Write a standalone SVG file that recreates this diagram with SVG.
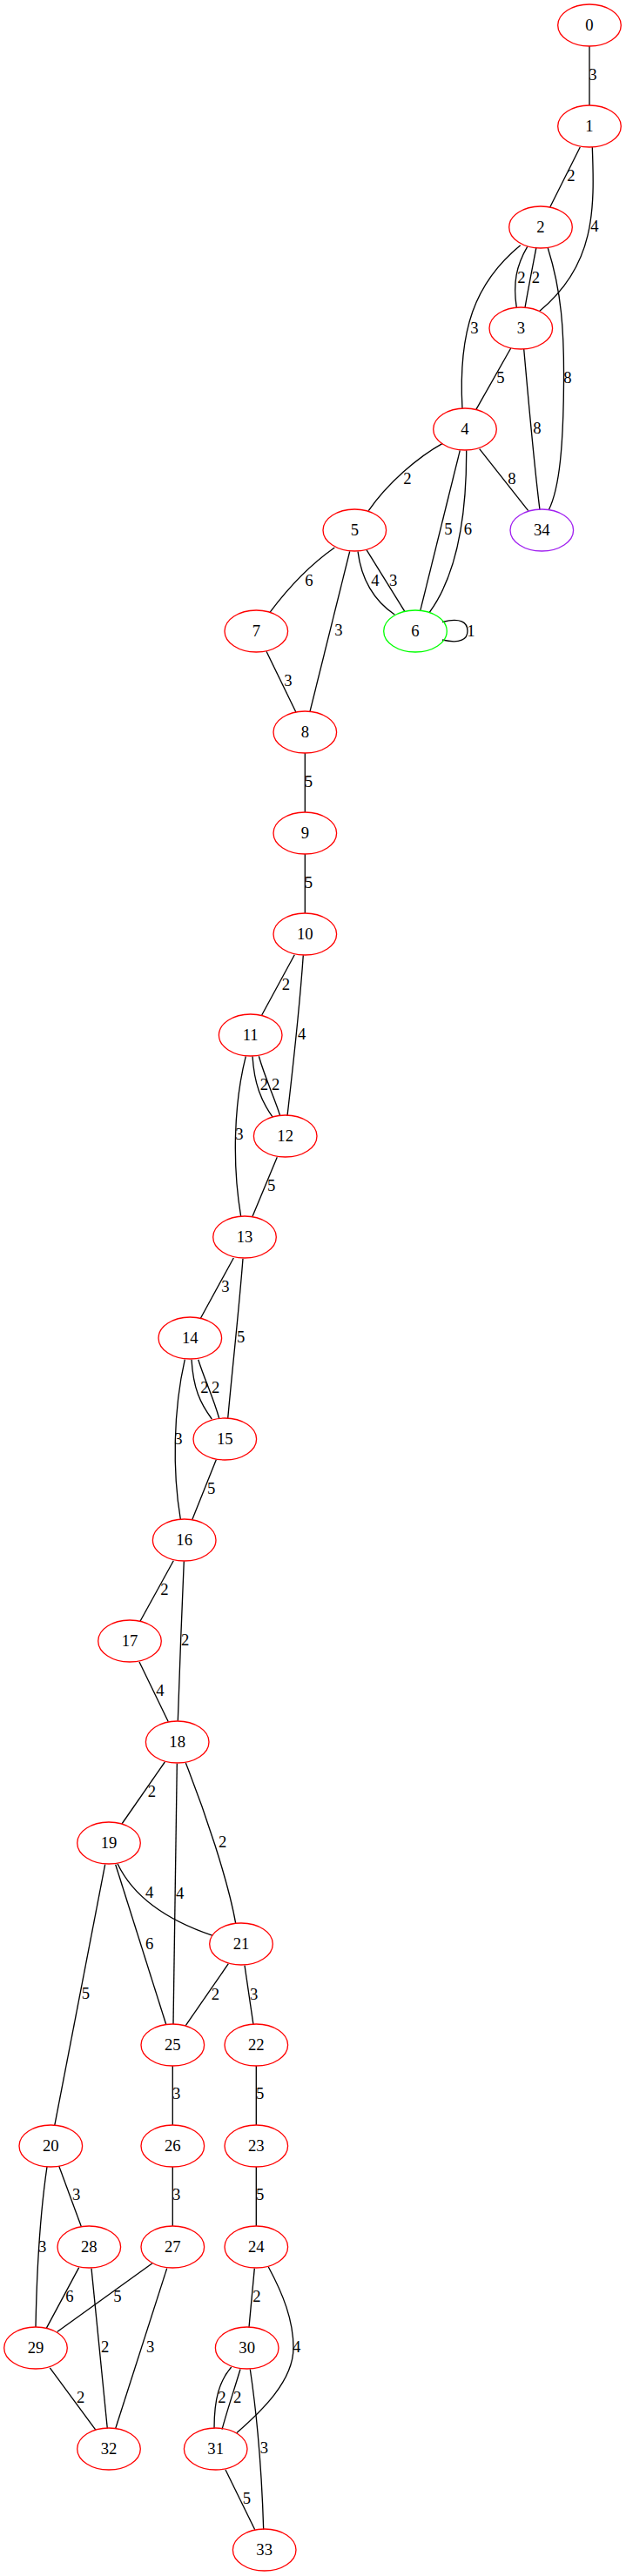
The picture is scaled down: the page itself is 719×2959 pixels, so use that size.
<svg xmlns="http://www.w3.org/2000/svg" width="719" height="2959" viewBox="0 0 719 2959">
<style>
.n ellipse{fill:none;stroke:#ff0000;stroke-width:1.33}
text{font-family:"Liberation Serif","Times New Roman",serif;font-size:18.67px;fill:#000;text-anchor:middle}
.e path{fill:none;stroke:#000;stroke-width:1.33}
</style>
<rect width="719" height="2959" fill="#fff"/>
<g id="edges" class="e">
<path d="M677,53 L677,121"/><text x="681" y="92">3</text>
<path d="M666.3,169 L631.7,238"/><text x="656" y="208">2</text>
<path d="M680.3,169 C683,240 684,305 619.3,357.7"/><text x="683" y="266">4</text>
<path d="M605.7,283.3 C593,305 589,325 593.3,353.3"/><text x="599" y="325">2</text>
<path d="M616,284 C611,310 607,330 603,353.3"/><text x="615.3" y="325">2</text>
<path d="M597.7,281.7 C545,325 526,380 531,469.3"/><text x="545" y="383">3</text>
<path d="M629.3,285 C645,335 648,380 647.5,440 C647,510 643,560 630.3,585.7"/><text x="652" y="440">8</text>
<path d="M586.7,400 L546.7,470.7"/><text x="575" y="440">5</text>
<path d="M601.7,401 C607,460 613,530 620,585.7"/><text x="617" y="498">8</text>
<path d="M508.3,509.3 C480,525 445,555 423.3,586.7"/><text x="468" y="556">2</text>
<path d="M528.3,517.3 L482.7,701.7"/><text x="515" y="614">5</text>
<path d="M535.7,517.3 C536,590 525,660 493.3,703.3"/><text x="537.3" y="614">6</text>
<path d="M550.7,515.7 L606.7,586.7"/><text x="588" y="556">8</text>
<path d="M384.3,629 C360,646 335,670 310,703.3"/><text x="355" y="673">6</text>
<path d="M401.7,633.3 L356,817.3"/><text x="389" y="730">3</text>
<path d="M411,633.3 C415,665 430,690 453.3,706"/><text x="431" y="673">4</text>
<path d="M421,631.7 L465,702.7"/><text x="451.7" y="673">3</text>
<path d="M508,714.5 C529,709 537,715 537,724.7 C537,734 529,740 508,735"/><text x="541" y="731">1</text>
<path d="M306,748.3 L340,818.3"/><text x="331" y="788">3</text>
<path d="M350.3,865 L350.3,933"/><text x="354.3" y="904">5</text>
<path d="M350.3,981 L350.3,1049"/><text x="354.3" y="1020">5</text>
<path d="M338.3,1096.7 L300.7,1166"/><text x="328.3" y="1137">2</text>
<path d="M348.3,1097.3 C344,1160 336,1230 330,1281.7"/><text x="346.7" y="1194">4</text>
<path d="M290,1213.3 C292,1245 300,1265 313.3,1283.3"/><text x="303.3" y="1252">2</text>
<path d="M297.3,1213.3 C305,1240 315,1260 321.7,1281.7"/><text x="316.7" y="1252">2</text>
<path d="M282.3,1213.3 C268,1270 267,1340 276.7,1397.3"/><text x="275" y="1309">3</text>
<path d="M318.3,1329.3 L290,1397.3"/><text x="311.7" y="1368">5</text>
<path d="M268.3,1445 L230,1515"/><text x="259" y="1484">3</text>
<path d="M279,1445.7 C274,1510 267,1570 261.7,1629.3"/><text x="276.7" y="1542">5</text>
<path d="M220,1561.7 C222,1595 230,1612 243.3,1630"/><text x="235" y="1600">2</text>
<path d="M227.7,1561.7 C235,1585 245,1605 251.7,1629.3"/><text x="247.7" y="1600">2</text>
<path d="M212.3,1561.7 C199,1620 198,1690 207.3,1745"/><text x="205" y="1659">3</text>
<path d="M248.3,1676.7 L220.7,1745.7"/><text x="242.7" y="1716">5</text>
<path d="M199.3,1792.7 L161,1862.3"/><text x="189" y="1832">2</text>
<path d="M211.3,1793.3 C209,1850 206,1920 204.3,1976.7"/><text x="212.7" y="1890">2</text>
<path d="M160,1909 L193.3,1977.7"/><text x="184" y="1948">4</text>
<path d="M189.3,2024 L140,2095"/><text x="174.3" y="2064">2</text>
<path d="M203.3,2025.7 C202,2125 200,2225 199,2325.3"/><text x="206.7" y="2181">4</text>
<path d="M213.3,2025 C235,2080 262,2160 270.7,2209.3"/><text x="255.7" y="2122">2</text>
<path d="M135,2140.7 C148,2168 175,2200 244.3,2223.3"/><text x="171.7" y="2180">4</text>
<path d="M132.7,2141.7 L190.7,2325.3"/><text x="171.7" y="2239">6</text>
<path d="M120.7,2141.7 L62.7,2441.7"/><text x="98.3" y="2296">5</text>
<path d="M262.3,2255.7 L213.3,2326.7"/><text x="247.3" y="2297">2</text>
<path d="M281,2257.7 L291,2325.7"/><text x="291.7" y="2297">3</text>
<path d="M198.3,2373 L198.3,2441"/><text x="202.7" y="2411">3</text>
<path d="M294.3,2373 L294.3,2441"/><text x="298.7" y="2411">5</text>
<path d="M198.3,2489 L198.3,2557"/><text x="202.7" y="2527">3</text>
<path d="M294.3,2489 L294.3,2557"/><text x="298.7" y="2527">5</text>
<path d="M67.7,2488 L93.3,2557.5"/><text x="87.7" y="2527">3</text>
<path d="M54,2488.8 C45,2550 42,2620 41,2673"/><text x="48.7" y="2587">3</text>
<path d="M90.7,2604.6 L53.3,2674.4"/><text x="80" y="2644">6</text>
<path d="M175,2599.8 L65.7,2678.5"/><text x="135" y="2644">5</text>
<path d="M105,2605.6 L123.3,2789.5"/><text x="120.7" y="2702">2</text>
<path d="M191.7,2605.6 L132.7,2789.5"/><text x="172.7" y="2702">3</text>
<path d="M57.3,2719.8 L110,2791.3"/><text x="92.7" y="2760">2</text>
<path d="M292.3,2605.6 L286,2673.3"/><text x="295" y="2644">2</text>
<path d="M308.3,2604 C325,2635 337,2665 337,2697 C337,2735 300,2770 271.7,2794.7"/><text x="340.7" y="2702">4</text>
<path d="M265.7,2719 C252,2735 246,2755 246,2789.5"/><text x="255" y="2760">2</text>
<path d="M276,2721.5 C269,2745 262,2765 255,2790.6"/><text x="272.7" y="2760">2</text>
<path d="M287.3,2721.5 C296,2780 301,2850 302.7,2905.7"/><text x="303.3" y="2818">3</text>
<path d="M259,2837 L292.7,2905.7"/><text x="283.3" y="2876">5</text>
</g>
<g id="node0" class="n"><ellipse cx="677" cy="29" rx="36.3" ry="24"/><text x="677" y="35">0</text></g>
<g id="node1" class="n"><ellipse cx="677" cy="145" rx="36.3" ry="24"/><text x="677" y="151">1</text></g>
<g id="node2" class="n"><ellipse cx="621" cy="261" rx="36.3" ry="24"/><text x="621" y="267">2</text></g>
<g id="node3" class="n"><ellipse cx="598.3" cy="377" rx="36.3" ry="24"/><text x="598.3" y="383">3</text></g>
<g id="node4" class="n"><ellipse cx="534" cy="493" rx="36.3" ry="24"/><text x="534" y="499">4</text></g>
<g id="node5" class="n"><ellipse cx="407.3" cy="609" rx="36.3" ry="24"/><text x="407.3" y="615">5</text></g>
<g id="node34" class="n"><ellipse cx="622.3" cy="609" rx="36.3" ry="24" style="stroke:#a020f0"/><text x="622.3" y="615">34</text></g>
<g id="node7" class="n"><ellipse cx="294.3" cy="725" rx="36.3" ry="24"/><text x="294.3" y="731">7</text></g>
<g id="node6" class="n"><ellipse cx="477" cy="725" rx="36.3" ry="24" style="stroke:#00ff00"/><text x="477" y="731">6</text></g>
<g id="node8" class="n"><ellipse cx="350.3" cy="841" rx="36.3" ry="24"/><text x="350.3" y="847">8</text></g>
<g id="node9" class="n"><ellipse cx="350.3" cy="957" rx="36.3" ry="24"/><text x="350.3" y="963">9</text></g>
<g id="node10" class="n"><ellipse cx="350.3" cy="1073" rx="36.3" ry="24"/><text x="350.3" y="1079">10</text></g>
<g id="node11" class="n"><ellipse cx="287.7" cy="1189" rx="36.3" ry="24"/><text x="287.7" y="1195">11</text></g>
<g id="node12" class="n"><ellipse cx="327.7" cy="1305" rx="36.3" ry="24"/><text x="327.7" y="1311">12</text></g>
<g id="node13" class="n"><ellipse cx="281" cy="1421" rx="36.3" ry="24"/><text x="281" y="1427">13</text></g>
<g id="node14" class="n"><ellipse cx="218.3" cy="1537" rx="36.3" ry="24"/><text x="218.3" y="1543">14</text></g>
<g id="node15" class="n"><ellipse cx="258.3" cy="1653" rx="36.3" ry="24"/><text x="258.3" y="1659">15</text></g>
<g id="node16" class="n"><ellipse cx="211.7" cy="1769" rx="36.3" ry="24"/><text x="211.7" y="1775">16</text></g>
<g id="node17" class="n"><ellipse cx="149" cy="1885" rx="36.3" ry="24"/><text x="149" y="1891">17</text></g>
<g id="node18" class="n"><ellipse cx="203.7" cy="2001" rx="36.3" ry="24"/><text x="203.7" y="2007">18</text></g>
<g id="node19" class="n"><ellipse cx="125" cy="2117" rx="36.3" ry="24"/><text x="125" y="2123">19</text></g>
<g id="node21" class="n"><ellipse cx="277" cy="2233" rx="36.3" ry="24"/><text x="277" y="2239">21</text></g>
<g id="node25" class="n"><ellipse cx="198.3" cy="2349" rx="36.3" ry="24"/><text x="198.3" y="2355">25</text></g>
<g id="node22" class="n"><ellipse cx="294.3" cy="2349" rx="36.3" ry="24"/><text x="294.3" y="2355">22</text></g>
<g id="node20" class="n"><ellipse cx="58.3" cy="2465" rx="36.3" ry="24"/><text x="58.3" y="2471">20</text></g>
<g id="node26" class="n"><ellipse cx="198.3" cy="2465" rx="36.3" ry="24"/><text x="198.3" y="2471">26</text></g>
<g id="node23" class="n"><ellipse cx="294.3" cy="2465" rx="36.3" ry="24"/><text x="294.3" y="2471">23</text></g>
<g id="node28" class="n"><ellipse cx="102.3" cy="2581" rx="36.3" ry="24"/><text x="102.3" y="2587">28</text></g>
<g id="node27" class="n"><ellipse cx="198.3" cy="2581" rx="36.3" ry="24"/><text x="198.3" y="2587">27</text></g>
<g id="node24" class="n"><ellipse cx="294.3" cy="2581" rx="36.3" ry="24"/><text x="294.3" y="2587">24</text></g>
<g id="node29" class="n"><ellipse cx="41" cy="2697" rx="36.3" ry="24"/><text x="41" y="2703">29</text></g>
<g id="node30" class="n"><ellipse cx="283.7" cy="2697" rx="36.3" ry="24"/><text x="283.7" y="2703">30</text></g>
<g id="node32" class="n"><ellipse cx="125" cy="2813" rx="36.3" ry="24"/><text x="125" y="2819">32</text></g>
<g id="node31" class="n"><ellipse cx="247.7" cy="2813" rx="36.3" ry="24"/><text x="247.7" y="2819">31</text></g>
<g id="node33" class="n"><ellipse cx="303.7" cy="2929" rx="36.3" ry="24"/><text x="303.7" y="2935">33</text></g>
</svg>
